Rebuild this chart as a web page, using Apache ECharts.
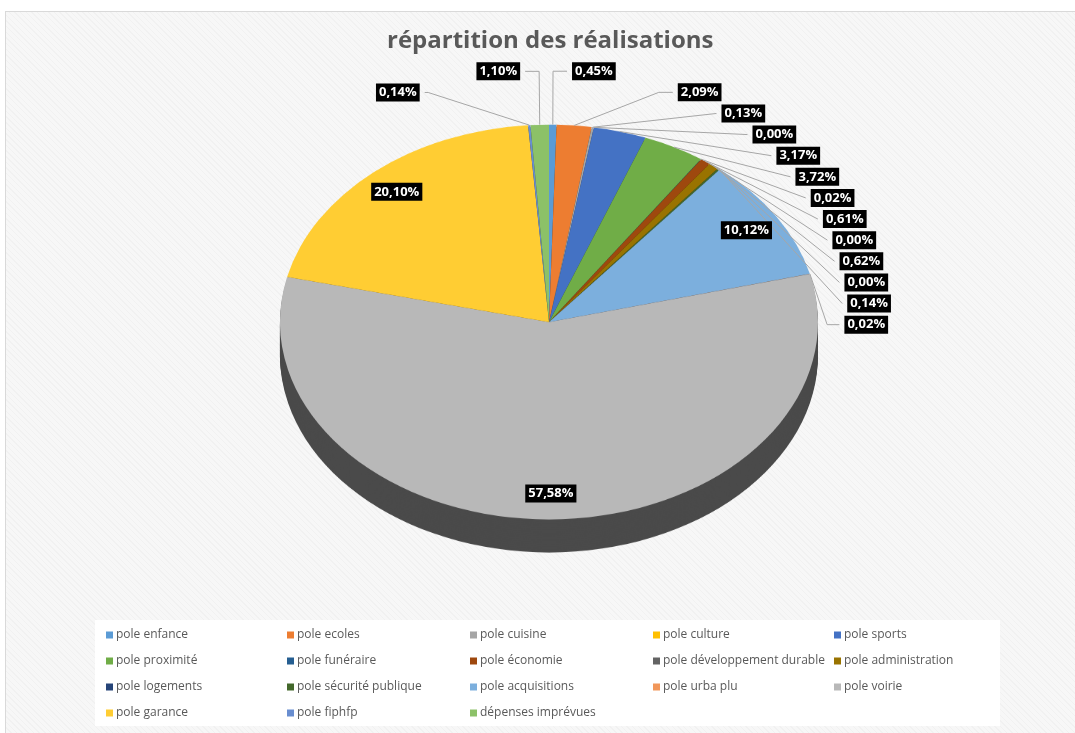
<!DOCTYPE html>
<html>
<head>
<meta charset="utf-8">
<title>répartition des réalisations</title>
<script src="https://cdn.jsdelivr.net/npm/echarts@6/dist/echarts.min.js"></script>
<style>
  html, body { margin: 0; padding: 0; background: #fff; overflow: hidden; }
  #frame {
    position: absolute; left: 5px; top: 11px; width: 1070px; height: 722px;
    border-left: 1px solid #d9d9d9; border-top: 1px solid #d9d9d9;
    background: #f7f7f7 repeating-linear-gradient(45deg, rgba(0,0,0,0.025) 0 1px, transparent 1px 4px);
  }
  /* the pie faces are drawn in a vertically squashed container to get the tilted look */
  #slices { position: absolute; left: 0; top: 0; width: 1075px; height: 999px; transform: scaleY(0.734); transform-origin: 0 0; }
  #chart { position: absolute; left: 0; top: 0; width: 1075px; height: 733px; }
</style>
</head>
<body>
<div id="frame"></div>
<div id="slices"></div>
<div id="chart"></div>
<script>
var categories = [
  'pole enfance', 'pole ecoles', 'pole cuisine', 'pole culture', 'pole sports',
  'pole proximité', 'pole funéraire', 'pole économie', 'pole développement durable', 'pole administration',
  'pole logements', 'pole sécurité publique', 'pole acquisitions', 'pole urba plu', 'pole voirie',
  'pole garance', 'pole fiphfp', 'dépenses imprévues'
]
// percentages
var values = [
  0.45, 2.09, 0.13, 0.00, 3.17,
  3.72, 0.02, 0.61, 0.00, 0.62,
  0.00, 0.14, 10.12, 0.02, 57.58,
  20.10, 0.14, 1.10
]
var colors = [
  '#5B9BD5', '#ED7D31', '#A5A5A5', '#FFC000', '#4472C4',
  '#70AD47', '#255E91', '#9E480E', '#636363', '#997300',
  '#264478', '#43682B', '#7CAFDD', '#F1975A', '#B8B8B8',
  '#FFCD33', '#698ED0', '#8CC168'
]

var FONT = '"Open Sans", "Liberation Sans", sans-serif'
var CX = 549
var CY = 322
var R = 269
var K = 0.734 // vertical squash of the pie
var KL = 0.88 // softer squash for the outside labels
var DEPTH = 33

function darken(hex, f) {
  var n = parseInt(hex.slice(1), 16)
  var r = Math.round(((n >> 16) & 255) * f)
  var g = Math.round(((n >> 8) & 255) * f)
  var b = Math.round((n & 255) * f)
  return 'rgb(' + r + ',' + g + ',' + b + ')'
}

function fmt(v) {
  return v.toFixed(2).replace('.', ',') + '%'
}

// ---- pie faces (squashed) ----
var slicesChart = echarts.init(document.getElementById('slices'), null, { renderer: 'canvas' })
var faceSeries = []
var steps = 16
for (var i = steps; i >= 0; i--) {
  var isTop = i === 0
  faceSeries.push({
    type: 'pie',
    radius: R,
    center: [CX, (CY + DEPTH * i / steps) / K],
    startAngle: 90,
    clockwise: true,
    silent: true,
    animation: false,
    label: { show: false },
    labelLine: { show: false },
    itemStyle: { borderWidth: 0 },
    data: categories.map(function (c, j) {
      return { name: c, value: values[j], itemStyle: { color: isTop ? colors[j] : darken(colors[j], 0.4) } }
    })
  })
}
slicesChart.setOption({ animation: false, series: faceSeries })

// ---- title, legend and value labels ----
var chart = echarts.init(document.getElementById('chart'), null, { renderer: 'canvas' })

var colX = [101, 282, 465, 648, 829]
var legends = colX.map(function (x, col) {
  var items = []
  categories.forEach(function (c, j) {
    if (j % 5 === col) items.push({ name: c, itemStyle: { color: colors[j] } })
  })
  return {
    orient: 'vertical',
    left: x,
    top: 622,
    icon: 'rect',
    itemWidth: 7,
    itemHeight: 7,
    itemGap: 10,
    selectedMode: false,
    textStyle: { color: '#595959', fontSize: 12, fontFamily: FONT, lineHeight: 16, padding: [0, 0, 0, -2] },
    data: items
  }
})

chart.setOption({
  animation: false,
  title: {
    text: 'répartition des réalisations',
    left: 382,
    top: 24,
    textStyle: { color: '#595959', fontSize: 24, fontWeight: 'bold', fontFamily: FONT }
  },
  graphic: [{
    type: 'rect',
    shape: { x: 95, y: 620, width: 905, height: 106 },
    style: { fill: '#ffffff' },
    z: -1
  }],
  legend: legends,
  series: [{
    type: 'pie',
    radius: R,
    center: [CX, CY],
    startAngle: 90,
    clockwise: true,
    silent: true,
    avoidLabelOverlap: true,
    itemStyle: { color: 'rgba(0,0,0,0)', borderWidth: 0 },
    label: {
      show: true,
      formatter: function (p) { return fmt(p.value) },
      color: '#fff',
      backgroundColor: '#000',
      fontFamily: FONT,
      fontWeight: 'bold',
      fontSize: 13,
      lineHeight: 15,
      padding: [2, 3, 1, 3],
      minMargin: 6
    },
    labelLine: { show: true, length: 16, length2: 14, lineStyle: { color: '#a6a6a6', width: 1 } },
    labelLayout: function (p) {
      var r = p.labelRect
      var lx = r.x + r.width / 2
      var ly = r.y + r.height / 2
      if (values[p.dataIndex] >= 10) {
        var f = 1.7
        return { dx: (lx - CX) * (f - 1), dy: CY + (ly - CY) * f * K - ly }
      }
      var pts = (p.labelLinePoints || []).map(function (q, n) {
        return [q[0], CY + (q[1] - CY) * (n === 0 ? K : KL)]
      })
      return { dy: (ly - CY) * (KL - 1), labelLinePoints: pts }
    },
    data: categories.map(function (c, j) {
      var item = { name: c, value: values[j] }
      if (values[j] >= 10) {
        item.label = { position: 'inside' }
        item.labelLine = { show: false }
      }
      return item
    })
  }]
})
</script>
</body>
</html>
